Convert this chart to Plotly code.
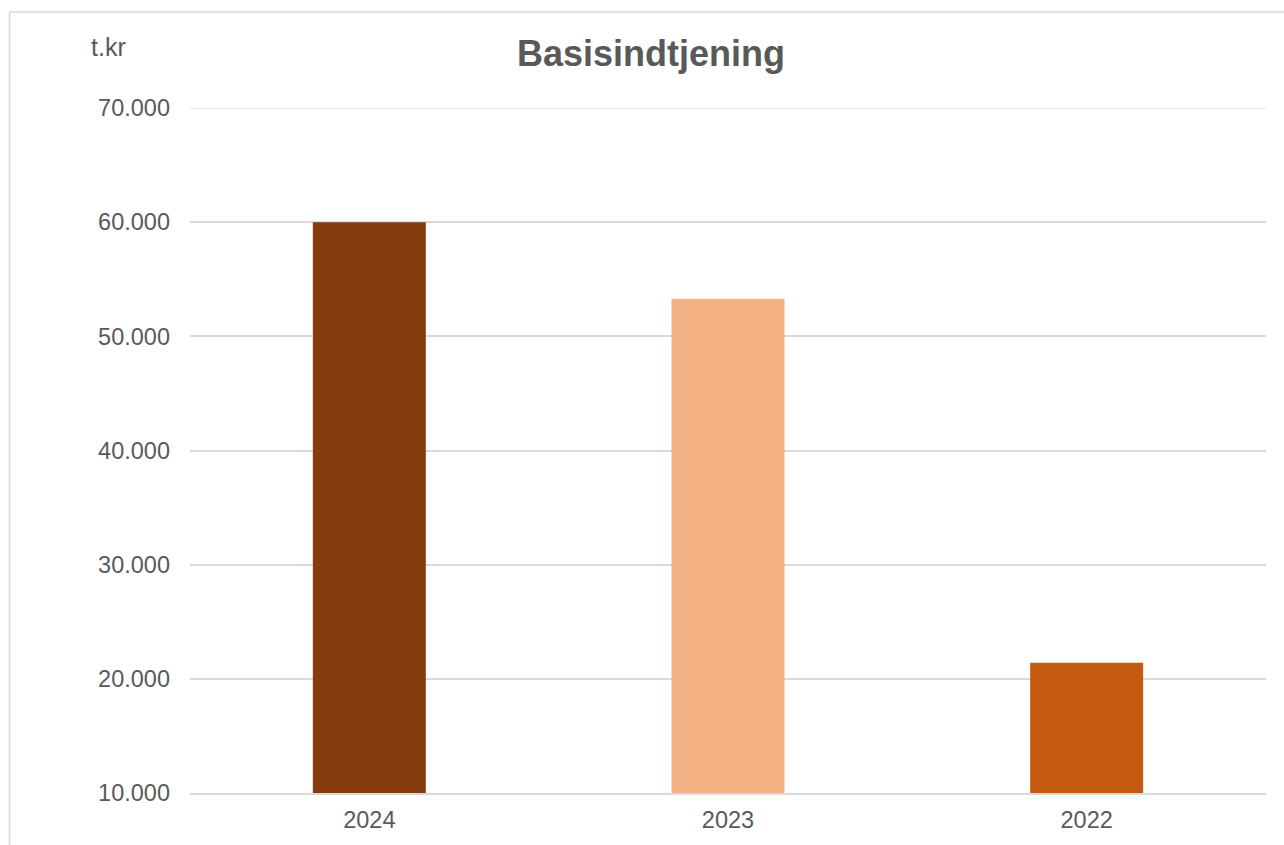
import plotly.graph_objects as go

categories = ["2024", "2023", "2022"]
values = [60000, 53300, 21400]
bar_colors = ["#843C0C", "#F4B183", "#C55A11"]
title_text = "Basisindtjening"
unit_label = "t.kr"
y_ticks = [10000, 20000, 30000, 40000, 50000, 60000, 70000]

W, H = 1284, 845
L, R, T, B = 190, 18, 108, 52
pw, ph = W - L - R, H - T - B

def px_x(x):
    return (x - L) / pw

def px_y(y):
    return (H - B - y) / ph

fig = go.Figure()
fig.add_trace(go.Bar(
    x=categories, y=values, marker_color=bar_colors, width=0.315,
    marker_line_width=0, hoverinfo="skip",
))

font_family = "Liberation Sans, Arial, sans-serif"
grey = "#595959"
grid = "#D9D9D9"

fig.update_layout(
    width=W, height=H,
    margin=dict(l=L, r=R, t=T, b=B, autoexpand=False),
    paper_bgcolor="white", plot_bgcolor="white",
    separators=",.",
    showlegend=False,
    font=dict(family=font_family, color=grey),
    xaxis=dict(
        showgrid=False, showline=True, linecolor=grid, linewidth=1.5,
        tickfont=dict(size=23.5, color=grey), ticks="", ticklabelstandoff=5,
    ),
    yaxis=dict(
        range=[y_ticks[0], y_ticks[-1]], tickvals=y_ticks,
        tickformat=",d", showgrid=True, gridcolor=grid, gridwidth=1.5,
        zeroline=False, showline=False, ticks="",
        tickfont=dict(size=23.5, color=grey), ticklabelstandoff=19,
    ),
    shapes=[
        dict(type="line", xref="paper", yref="y", x0=0, x1=1,
             y0=y_ticks[-1], y1=y_ticks[-1], line=dict(color=grid, width=1.5), layer="below"),
        dict(type="line", xref="paper", yref="paper", x0=px_x(9.5), x1=px_x(1300),
             y0=px_y(12), y1=px_y(12), line=dict(color=grid, width=1.5)),
        dict(type="line", xref="paper", yref="paper", x0=px_x(9.5), x1=px_x(9.5),
             y0=px_y(12), y1=px_y(860), line=dict(color=grid, width=1.5)),
    ],
    annotations=[
        dict(text="<b>%s</b>" % title_text, xref="paper", yref="paper",
             x=px_x(651), y=px_y(54), xanchor="center", yanchor="middle",
             showarrow=False, font=dict(size=36, color=grey, family=font_family)),
        dict(text=unit_label, xref="paper", yref="paper",
             x=px_x(89), y=px_y(47), xanchor="left", yanchor="middle",
             showarrow=False, font=dict(size=25, color=grey, family=font_family)),
    ],
)

fig.write_html("out.html")
